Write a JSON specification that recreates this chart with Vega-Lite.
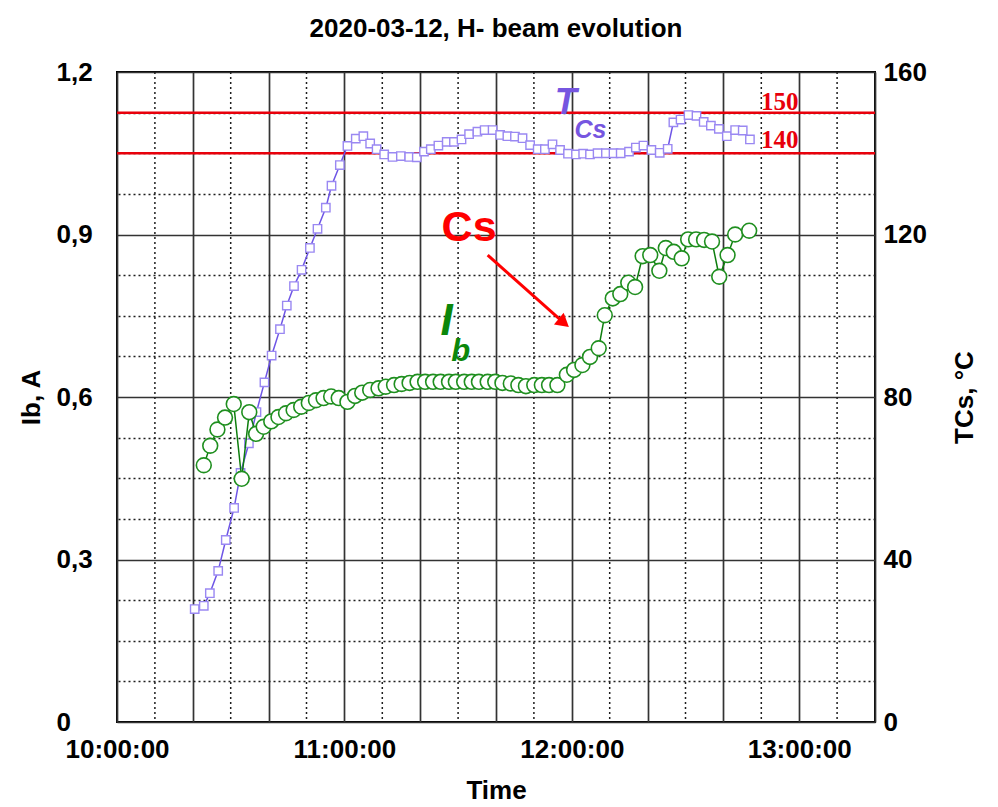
{
  "$schema": "https://vega.github.io/schema/vega-lite/v6.json",
  "width": 758,
  "height": 650,
  "autosize": {"type": "none"},
  "padding": {"left": 117, "top": 72, "right": 123, "bottom": 85},
  "background": "white",
  "title": {
    "text": "2020-03-12, H- beam evolution",
    "font": "Liberation Sans",
    "fontSize": 26,
    "fontWeight": "bold",
    "color": "black",
    "anchor": "middle",
    "frame": "group",
    "offset": 17
  },
  "config": {
    "view": {"stroke": "black", "strokeWidth": 2},
    "font": "Liberation Sans"
  },
  "datasets": {
    "minorTimes": [
      {"time": "2020-03-12T10:10:00"},
      {"time": "2020-03-12T10:30:00"},
      {"time": "2020-03-12T10:50:00"},
      {"time": "2020-03-12T11:10:00"},
      {"time": "2020-03-12T11:30:00"},
      {"time": "2020-03-12T11:50:00"},
      {"time": "2020-03-12T12:10:00"},
      {"time": "2020-03-12T12:30:00"},
      {"time": "2020-03-12T12:50:00"},
      {"time": "2020-03-12T13:10:00"}
    ],
    "tcs": [
      {"time": "2020-03-12T10:20:30", "T": 27.8},
      {"time": "2020-03-12T10:22:54", "T": 28.6},
      {"time": "2020-03-12T10:24:30", "T": 31.7},
      {"time": "2020-03-12T10:26:42", "T": 37.2},
      {"time": "2020-03-12T10:28:42", "T": 44.8},
      {"time": "2020-03-12T10:30:54", "T": 52.7},
      {"time": "2020-03-12T10:32:36", "T": 61.3},
      {"time": "2020-03-12T10:34:48", "T": 68.6},
      {"time": "2020-03-12T10:36:48", "T": 76.3},
      {"time": "2020-03-12T10:38:54", "T": 83.6},
      {"time": "2020-03-12T10:40:48", "T": 90.2},
      {"time": "2020-03-12T10:43:00", "T": 96.7},
      {"time": "2020-03-12T10:44:48", "T": 102.5},
      {"time": "2020-03-12T10:46:42", "T": 107.3},
      {"time": "2020-03-12T10:48:42", "T": 111.3},
      {"time": "2020-03-12T10:50:54", "T": 116.7},
      {"time": "2020-03-12T10:52:54", "T": 121.4},
      {"time": "2020-03-12T10:55:06", "T": 126.6},
      {"time": "2020-03-12T10:56:36", "T": 132.0},
      {"time": "2020-03-12T10:58:48", "T": 137.1},
      {"time": "2020-03-12T11:00:48", "T": 141.8},
      {"time": "2020-03-12T11:03:00", "T": 143.6},
      {"time": "2020-03-12T11:05:00", "T": 144.2},
      {"time": "2020-03-12T11:06:48", "T": 142.4},
      {"time": "2020-03-12T11:08:30", "T": 141.0},
      {"time": "2020-03-12T11:10:30", "T": 139.7},
      {"time": "2020-03-12T11:12:42", "T": 139.1},
      {"time": "2020-03-12T11:14:54", "T": 139.3},
      {"time": "2020-03-12T11:17:06", "T": 139.1},
      {"time": "2020-03-12T11:19:06", "T": 139.0},
      {"time": "2020-03-12T11:21:00", "T": 140.4},
      {"time": "2020-03-12T11:22:48", "T": 141.0},
      {"time": "2020-03-12T11:24:48", "T": 141.9},
      {"time": "2020-03-12T11:27:00", "T": 142.8},
      {"time": "2020-03-12T11:28:54", "T": 142.8},
      {"time": "2020-03-12T11:30:54", "T": 143.4},
      {"time": "2020-03-12T11:32:54", "T": 144.7},
      {"time": "2020-03-12T11:35:06", "T": 145.3},
      {"time": "2020-03-12T11:37:00", "T": 145.7},
      {"time": "2020-03-12T11:39:06", "T": 145.7},
      {"time": "2020-03-12T11:41:06", "T": 144.5},
      {"time": "2020-03-12T11:43:00", "T": 144.2},
      {"time": "2020-03-12T11:45:00", "T": 144.1},
      {"time": "2020-03-12T11:47:00", "T": 143.7},
      {"time": "2020-03-12T11:49:00", "T": 142.0},
      {"time": "2020-03-12T11:51:00", "T": 141.0},
      {"time": "2020-03-12T11:52:54", "T": 141.0},
      {"time": "2020-03-12T11:54:54", "T": 142.2},
      {"time": "2020-03-12T11:56:54", "T": 140.8},
      {"time": "2020-03-12T11:59:00", "T": 139.9},
      {"time": "2020-03-12T12:01:06", "T": 139.7},
      {"time": "2020-03-12T12:03:00", "T": 139.9},
      {"time": "2020-03-12T12:04:48", "T": 139.7},
      {"time": "2020-03-12T12:06:48", "T": 140.0},
      {"time": "2020-03-12T12:09:00", "T": 140.0},
      {"time": "2020-03-12T12:11:00", "T": 140.0},
      {"time": "2020-03-12T12:12:54", "T": 140.0},
      {"time": "2020-03-12T12:15:06", "T": 140.4},
      {"time": "2020-03-12T12:16:54", "T": 141.4},
      {"time": "2020-03-12T12:18:54", "T": 141.9},
      {"time": "2020-03-12T12:21:00", "T": 140.8},
      {"time": "2020-03-12T12:23:12", "T": 140.1},
      {"time": "2020-03-12T12:25:18", "T": 141.1},
      {"time": "2020-03-12T12:26:48", "T": 147.6},
      {"time": "2020-03-12T12:28:42", "T": 148.3},
      {"time": "2020-03-12T12:30:48", "T": 149.4},
      {"time": "2020-03-12T12:32:54", "T": 149.2},
      {"time": "2020-03-12T12:34:48", "T": 147.7},
      {"time": "2020-03-12T12:36:42", "T": 146.8},
      {"time": "2020-03-12T12:38:48", "T": 146.0},
      {"time": "2020-03-12T12:40:54", "T": 144.2},
      {"time": "2020-03-12T12:43:06", "T": 145.7},
      {"time": "2020-03-12T12:45:06", "T": 145.6},
      {"time": "2020-03-12T12:47:00", "T": 143.4}
    ],
    "ib": [
      {"time": "2020-03-12T10:22:54", "Ib": 0.474},
      {"time": "2020-03-12T10:24:36", "Ib": 0.510},
      {"time": "2020-03-12T10:26:30", "Ib": 0.540},
      {"time": "2020-03-12T10:28:30", "Ib": 0.562},
      {"time": "2020-03-12T10:30:48", "Ib": 0.587},
      {"time": "2020-03-12T10:32:54", "Ib": 0.449},
      {"time": "2020-03-12T10:34:54", "Ib": 0.572},
      {"time": "2020-03-12T10:36:42", "Ib": 0.532},
      {"time": "2020-03-12T10:38:42", "Ib": 0.545},
      {"time": "2020-03-12T10:40:42", "Ib": 0.555},
      {"time": "2020-03-12T10:42:36", "Ib": 0.563},
      {"time": "2020-03-12T10:44:36", "Ib": 0.570},
      {"time": "2020-03-12T10:46:36", "Ib": 0.576},
      {"time": "2020-03-12T10:48:36", "Ib": 0.582},
      {"time": "2020-03-12T10:50:36", "Ib": 0.589},
      {"time": "2020-03-12T10:52:30", "Ib": 0.594},
      {"time": "2020-03-12T10:54:30", "Ib": 0.598},
      {"time": "2020-03-12T10:56:30", "Ib": 0.601},
      {"time": "2020-03-12T10:58:30", "Ib": 0.598},
      {"time": "2020-03-12T11:00:48", "Ib": 0.591},
      {"time": "2020-03-12T11:02:48", "Ib": 0.602},
      {"time": "2020-03-12T11:04:42", "Ib": 0.608},
      {"time": "2020-03-12T11:06:48", "Ib": 0.613},
      {"time": "2020-03-12T11:09:00", "Ib": 0.616},
      {"time": "2020-03-12T11:10:54", "Ib": 0.619},
      {"time": "2020-03-12T11:13:06", "Ib": 0.622},
      {"time": "2020-03-12T11:15:06", "Ib": 0.624},
      {"time": "2020-03-12T11:17:12", "Ib": 0.626},
      {"time": "2020-03-12T11:19:18", "Ib": 0.628},
      {"time": "2020-03-12T11:21:18", "Ib": 0.628},
      {"time": "2020-03-12T11:23:24", "Ib": 0.628},
      {"time": "2020-03-12T11:25:24", "Ib": 0.628},
      {"time": "2020-03-12T11:27:36", "Ib": 0.628},
      {"time": "2020-03-12T11:29:24", "Ib": 0.628},
      {"time": "2020-03-12T11:31:36", "Ib": 0.628},
      {"time": "2020-03-12T11:33:36", "Ib": 0.628},
      {"time": "2020-03-12T11:35:30", "Ib": 0.628},
      {"time": "2020-03-12T11:37:48", "Ib": 0.628},
      {"time": "2020-03-12T11:39:48", "Ib": 0.628},
      {"time": "2020-03-12T11:41:42", "Ib": 0.626},
      {"time": "2020-03-12T11:43:54", "Ib": 0.625},
      {"time": "2020-03-12T11:45:54", "Ib": 0.622},
      {"time": "2020-03-12T11:47:54", "Ib": 0.620},
      {"time": "2020-03-12T11:50:06", "Ib": 0.622},
      {"time": "2020-03-12T11:52:06", "Ib": 0.622},
      {"time": "2020-03-12T11:54:00", "Ib": 0.622},
      {"time": "2020-03-12T11:56:12", "Ib": 0.622},
      {"time": "2020-03-12T11:58:42", "Ib": 0.641},
      {"time": "2020-03-12T12:00:36", "Ib": 0.650},
      {"time": "2020-03-12T12:02:48", "Ib": 0.659},
      {"time": "2020-03-12T12:04:48", "Ib": 0.674},
      {"time": "2020-03-12T12:07:06", "Ib": 0.690},
      {"time": "2020-03-12T12:08:42", "Ib": 0.751},
      {"time": "2020-03-12T12:10:48", "Ib": 0.782},
      {"time": "2020-03-12T12:12:48", "Ib": 0.790},
      {"time": "2020-03-12T12:14:54", "Ib": 0.811},
      {"time": "2020-03-12T12:16:42", "Ib": 0.803},
      {"time": "2020-03-12T12:18:42", "Ib": 0.860},
      {"time": "2020-03-12T12:20:42", "Ib": 0.862},
      {"time": "2020-03-12T12:23:06", "Ib": 0.833},
      {"time": "2020-03-12T12:24:48", "Ib": 0.875},
      {"time": "2020-03-12T12:26:54", "Ib": 0.868},
      {"time": "2020-03-12T12:29:00", "Ib": 0.856},
      {"time": "2020-03-12T12:30:42", "Ib": 0.891},
      {"time": "2020-03-12T12:32:48", "Ib": 0.891},
      {"time": "2020-03-12T12:34:54", "Ib": 0.890},
      {"time": "2020-03-12T12:37:00", "Ib": 0.887},
      {"time": "2020-03-12T12:38:54", "Ib": 0.822},
      {"time": "2020-03-12T12:41:06", "Ib": 0.862},
      {"time": "2020-03-12T12:43:06", "Ib": 0.900},
      {"time": "2020-03-12T12:46:48", "Ib": 0.907}
    ],
    "limits": [{"T": 150}, {"T": 140}],
    "limitLabels": [
      {"time": "2020-03-12T12:49:54", "T": 152.6, "label": "150"},
      {"time": "2020-03-12T12:49:54", "T": 143.3, "label": "140"}
    ],
    "arrow": [
      {"time": "2020-03-12T11:37:48", "Ib": 0.862, "time2": "2020-03-12T11:57:54", "Ib2": 0.737}
    ],
    "arrowHead": [
      {"time": "2020-03-12T11:57:54", "Ib": 0.737}
    ],
    "notes": [
      {"id": "cs", "time": "2020-03-12T11:32:54", "Ib": 0.912, "label": "Cs"},
      {"id": "T", "time": "2020-03-12T11:58:24", "Ib": 1.143, "label": "T"},
      {"id": "Tsub", "time": "2020-03-12T12:04:54", "Ib": 1.093, "label": "Cs"},
      {"id": "I", "time": "2020-03-12T11:27:00", "Ib": 0.738, "label": "I"},
      {"id": "Isub", "time": "2020-03-12T11:30:42", "Ib": 0.683, "label": "b"}
    ]
  },
  "layer": [
    {
      "layer": [
        {
          "data": {"name": "minorTimes"},
          "mark": {"type": "rule", "color": "#1e1e1e", "strokeWidth": 1.5, "strokeDash": [2, 3]},
          "encoding": {
            "x": {
              "field": "time",
              "type": "temporal",
              "scale": {
                "domain": [
                  {"year": 2020, "month": 3, "date": 12, "hours": 10, "minutes": 0},
                  {"year": 2020, "month": 3, "date": 12, "hours": 13, "minutes": 20}
                ],
                "nice": false
              },
              "axis": {
                "values": [
                  {"year": 2020, "month": 3, "date": 12, "hours": 10, "minutes": 0},
                  {"year": 2020, "month": 3, "date": 12, "hours": 10, "minutes": 20},
                  {"year": 2020, "month": 3, "date": 12, "hours": 10, "minutes": 40},
                  {"year": 2020, "month": 3, "date": 12, "hours": 11, "minutes": 0},
                  {"year": 2020, "month": 3, "date": 12, "hours": 11, "minutes": 20},
                  {"year": 2020, "month": 3, "date": 12, "hours": 11, "minutes": 40},
                  {"year": 2020, "month": 3, "date": 12, "hours": 12, "minutes": 0},
                  {"year": 2020, "month": 3, "date": 12, "hours": 12, "minutes": 20},
                  {"year": 2020, "month": 3, "date": 12, "hours": 12, "minutes": 40},
                  {"year": 2020, "month": 3, "date": 12, "hours": 13, "minutes": 0},
                  {"year": 2020, "month": 3, "date": 12, "hours": 13, "minutes": 20}
                ],
                "labelExpr": "minutes(datum.value) == 0 ? timeFormat(datum.value, '%H:%M:%S') : ''",
                "grid": true,
                "gridColor": "#333333",
                "gridWidth": 1.7,
                "ticks": false,
                "tickSize": 0,
                "domain": false,
                "labelPadding": 14,
                "labelFont": "Liberation Sans",
                "labelFontSize": 26,
                "labelFontWeight": "bold",
                "labelColor": "black",
                "labelFlush": false,
                "labelOverlap": false,
                "labelBound": false,
                "title": "Time",
                "titleFont": "Liberation Sans",
                "titleFontSize": 26,
                "titleFontWeight": "bold",
                "titleColor": "black",
                "titlePadding": 15
              }
            }
          }
        },
        {
          "data": {"name": "limits"},
          "mark": {"type": "rule", "color": "#e8000b", "strokeWidth": 2.5},
          "encoding": {
            "y": {
              "field": "T",
              "type": "quantitative",
              "scale": {"domain": [0, 160], "nice": false, "zero": false},
              "axis": {
                "orient": "right",
                "values": [0, 10, 20, 30, 40, 50, 60, 70, 80, 90, 100, 110, 120, 130, 140, 150, 160],
                "labelExpr": "datum.value % 40 == 0 ? datum.label : ''",
                "format": "d",
                "grid": true,
                "gridColor": {"condition": {"test": "datum.value % 40 == 0", "value": "#333333"}, "value": "#1e1e1e"},
                "gridDash": {"condition": {"test": "datum.value % 40 == 0", "value": [1, 0]}, "value": [2, 3]},
                "gridWidth": {"condition": {"test": "datum.value % 40 == 0", "value": 1.7}, "value": 1.5},
                "ticks": false,
                "tickSize": 0,
                "domain": false,
                "labelPadding": 8,
                "labelFont": "Liberation Sans",
                "labelFontSize": 26,
                "labelFontWeight": "bold",
                "labelColor": "black",
                "labelOverlap": false,
                "labelBound": false,
                "title": "TCs, °C",
                "titleAngle": 270,
                "titleBaseline": "top",
                "titleFont": "Liberation Sans",
                "titleFontSize": 26,
                "titleFontWeight": "bold",
                "titleColor": "black",
                "titlePadding": 25
              }
            }
          }
        },
        {
          "data": {"name": "tcs"},
          "mark": {"type": "line", "color": "#6e55e6", "strokeWidth": 1.5},
          "encoding": {
            "x": {"field": "time", "type": "temporal"},
            "y": {"field": "T", "type": "quantitative"}
          }
        },
        {
          "data": {"name": "tcs"},
          "mark": {"type": "point", "shape": "square", "filled": true, "fill": "white", "stroke": "#9a88f2", "strokeWidth": 1.4, "size": 70, "opacity": 1},
          "encoding": {
            "x": {"field": "time", "type": "temporal"},
            "y": {"field": "T", "type": "quantitative"}
          }
        },
        {
          "data": {"name": "limitLabels"},
          "mark": {"type": "text", "font": "Liberation Serif", "fontWeight": "bold", "fontSize": 25, "color": "#e8000b", "align": "left", "baseline": "middle"},
          "encoding": {
            "x": {"field": "time", "type": "temporal"},
            "y": {"field": "T", "type": "quantitative"},
            "text": {"field": "label"}
          }
        }
      ]
    },
    {
      "layer": [
        {
          "data": {"name": "ib"},
          "mark": {"type": "line", "color": "#0d7d0d", "strokeWidth": 1.5},
          "encoding": {
            "x": {"field": "time", "type": "temporal"},
            "y": {
              "field": "Ib",
              "type": "quantitative",
              "scale": {"domain": [0, 1.2], "nice": false},
              "axis": {
                "orient": "left",
                "values": [0, 0.3, 0.6, 0.9, 1.2],
                "labelExpr": "datum.value == 0 ? '0' : replace(format(datum.value, '.1f'), '.', ',')",
                "grid": false,
                "ticks": false,
                "tickSize": 0,
                "domain": false,
                "labelAlign": "left",
                "labelPadding": 61,
                "labelFont": "Liberation Sans",
                "labelFontSize": 26,
                "labelFontWeight": "bold",
                "labelColor": "black",
                "labelOverlap": false,
                "labelBound": false,
                "title": "Ib, A",
                "titleFont": "Liberation Sans",
                "titleFontSize": 26,
                "titleFontWeight": "bold",
                "titleColor": "black",
                "titlePadding": 12
              }
            }
          }
        },
        {
          "data": {"name": "ib"},
          "mark": {"type": "point", "shape": "circle", "filled": true, "fill": "white", "stroke": "#1f8f1f", "strokeWidth": 1.6, "size": 220, "opacity": 1},
          "encoding": {
            "x": {"field": "time", "type": "temporal"},
            "y": {"field": "Ib", "type": "quantitative"}
          }
        },
        {
          "data": {"name": "arrow"},
          "mark": {"type": "rule", "color": "#ff0000", "strokeWidth": 3},
          "encoding": {
            "x": {"field": "time", "type": "temporal"},
            "y": {"field": "Ib", "type": "quantitative"},
            "x2": {"field": "time2"},
            "y2": {"field": "Ib2"}
          }
        },
        {
          "data": {"name": "arrowHead"},
          "mark": {"type": "point", "shape": "triangle-up", "filled": true, "color": "#ff0000", "size": 230, "angle": 130, "opacity": 1},
          "encoding": {
            "x": {"field": "time", "type": "temporal"},
            "y": {"field": "Ib", "type": "quantitative"}
          }
        },
        {
          "data": {"name": "notes"},
          "transform": [{"filter": "datum.id == 'cs'"}],
          "mark": {"type": "text", "font": "Liberation Sans", "fontWeight": "bold", "fontSize": 43, "color": "#ff0000", "align": "center", "baseline": "middle"},
          "encoding": {
            "x": {"field": "time", "type": "temporal"},
            "y": {"field": "Ib", "type": "quantitative"},
            "text": {"field": "label"}
          }
        },
        {
          "data": {"name": "notes"},
          "transform": [{"filter": "datum.id == 'T'"}],
          "mark": {"type": "text", "font": "Liberation Sans", "fontWeight": "bold", "fontStyle": "italic", "fontSize": 36, "color": "#7656e0", "align": "center", "baseline": "middle"},
          "encoding": {
            "x": {"field": "time", "type": "temporal"},
            "y": {"field": "Ib", "type": "quantitative"},
            "text": {"field": "label"}
          }
        },
        {
          "data": {"name": "notes"},
          "transform": [{"filter": "datum.id == 'Tsub'"}],
          "mark": {"type": "text", "font": "Liberation Sans", "fontWeight": "bold", "fontStyle": "italic", "fontSize": 25, "color": "#7656e0", "align": "center", "baseline": "middle"},
          "encoding": {
            "x": {"field": "time", "type": "temporal"},
            "y": {"field": "Ib", "type": "quantitative"},
            "text": {"field": "label"}
          }
        },
        {
          "data": {"name": "notes"},
          "transform": [{"filter": "datum.id == 'I'"}],
          "mark": {"type": "text", "font": "Liberation Sans", "fontWeight": "bold", "fontStyle": "italic", "fontSize": 44, "color": "#0b870b", "align": "center", "baseline": "middle"},
          "encoding": {
            "x": {"field": "time", "type": "temporal"},
            "y": {"field": "Ib", "type": "quantitative"},
            "text": {"field": "label"}
          }
        },
        {
          "data": {"name": "notes"},
          "transform": [{"filter": "datum.id == 'Isub'"}],
          "mark": {"type": "text", "font": "Liberation Sans", "fontWeight": "bold", "fontStyle": "italic", "fontSize": 31, "color": "#0b870b", "align": "center", "baseline": "middle"},
          "encoding": {
            "x": {"field": "time", "type": "temporal"},
            "y": {"field": "Ib", "type": "quantitative"},
            "text": {"field": "label"}
          }
        }
      ]
    }
  ],
  "resolve": {"scale": {"y": "independent"}}
}
